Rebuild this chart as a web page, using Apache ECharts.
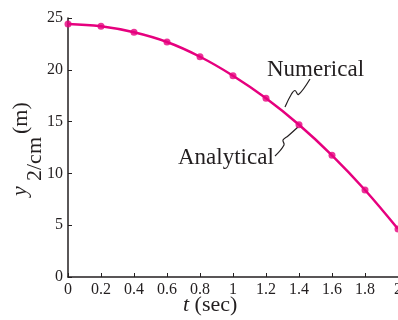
<!DOCTYPE html>
<html>
<head>
<meta charset="utf-8">
<script src="https://cdn.jsdelivr.net/npm/echarts@6/dist/echarts.min.js"></script>
<style>
html,body{margin:0;padding:0;background:#fff;}
#c{width:398px;height:320px;}
</style>
</head>
<body>
<div id="c"></div>
<script>
const tValues = [0, 0.2, 0.4, 0.6, 0.8, 1.0, 1.2, 1.4, 1.6, 1.8, 2.0];
const numerical = [24.42, 24.2, 23.62, 22.68, 21.26, 19.43, 17.25, 14.70, 11.75, 8.40, 4.63];
const analytical = [24.42, 24.2, 23.62, 22.68, 21.26, 19.43, 17.25, 14.70, 11.75, 8.40, 4.63];
const xTickLabels = ['0', '0.2', '0.4', '0.6', '0.8', '1', '1.2', '1.4', '1.6', '1.8', '2'];
const yTickLabels = ['0', '5', '10', '15', '20', '25'];

const SERIF = "'Liberation Serif', 'Times New Roman', serif";
const MAG = '#E6007E';
const INK = '#231f20';

const chart = echarts.init(document.getElementById('c'), null, {renderer: 'canvas'});

const option = {
  animation: false,
  backgroundColor: '#fff',
  grid: {left: 68, top: 18, width: 330, height: 259, containLabel: false, outerBoundsMode: 'none'},
  xAxis: {
    type: 'value', min: 0, max: 2, interval: 0.2,
    axisLine: {show: true, onZero: false, lineStyle: {color: INK, width: 1.5}},
    axisTick: {show: true, inside: true, length: 4, lineStyle: {color: INK, width: 1}},
    splitLine: {show: false},
    axisLabel: {
      color: INK, fontFamily: SERIF, fontSize: 16, margin: 5, hideOverlap: false,
      formatter: function (v) { return xTickLabels[Math.round(v / 0.2)]; }
    }
  },
  yAxis: {
    type: 'value', min: 0, max: 25, interval: 5,
    axisLine: {show: true, onZero: false, lineStyle: {color: INK, width: 1.5}},
    axisTick: {show: true, inside: true, length: 4, lineStyle: {color: INK, width: 1}},
    splitLine: {show: false},
    axisLabel: {
      color: INK, fontFamily: SERIF, fontSize: 16, margin: 5,
      formatter: function (v) { return yTickLabels[Math.round(v / 5)]; }
    }
  },
  series: [
    {
      name: 'Analytical', type: 'line', smooth: 0.4, showSymbol: false,
      data: tValues.map((t, i) => [t, analytical[i]]),
      lineStyle: {color: MAG, width: 2.5}, itemStyle: {color: MAG}, z: 2
    },
    {
      name: 'Numerical', type: 'scatter', symbol: 'circle', symbolSize: 7,
      data: tValues.map((t, i) => [t, numerical[i]]),
      itemStyle: {color: MAG}, z: 3
    }
  ],
  graphic: [
    {type: 'text', x: 183, y: 305.5, style: {
      text: '{i|t} (sec)', fontFamily: SERIF, fontSize: 22, fill: INK,
      textAlign: 'left', textVerticalAlign: 'middle',
      rich: {i: {fontStyle: 'italic', fontFamily: SERIF, fontSize: 22, fill: INK}}
    }},
    {type: 'text', x: 20.5, y: 196, rotation: Math.PI / 2, style: {
      text: 'y', fontFamily: SERIF, fontStyle: 'italic', fontSize: 22, fill: INK,
      textAlign: 'left', textVerticalAlign: 'middle'
    }},
    {type: 'text', x: 35.5, y: 181, rotation: Math.PI / 2, style: {
      text: '2/cm', fontFamily: SERIF, fontSize: 22, fill: INK,
      textAlign: 'left', textVerticalAlign: 'middle'
    }},
    {type: 'text', x: 21.5, y: 134, rotation: Math.PI / 2, style: {
      text: '(m)', fontFamily: SERIF, fontSize: 22, fill: INK,
      textAlign: 'left', textVerticalAlign: 'middle'
    }},
    {type: 'text', x: 267, y: 69.5, style: {
      text: 'Numerical', fontFamily: SERIF, fontSize: 23, fill: INK,
      textAlign: 'left', textVerticalAlign: 'middle'
    }},
    {type: 'text', x: 178, y: 157.5, style: {
      text: 'Analytical', fontFamily: SERIF, fontSize: 23, fill: INK,
      textAlign: 'left', textVerticalAlign: 'middle'
    }},
    {type: 'polyline', shape: {points: [[285, 107], [291.5, 94], [295, 90.5], [298.5, 94.5], [310, 79]], smooth: 0.4},
      style: {stroke: INK, lineWidth: 1.2, fill: null}},
    {type: 'polyline', shape: {points: [[275, 156], [284, 145], [283, 140], [288, 136], [298, 127]], smooth: 0.4},
      style: {stroke: INK, lineWidth: 1.2, fill: null}}
  ]
};
chart.setOption(option);
</script>
</body>
</html>
